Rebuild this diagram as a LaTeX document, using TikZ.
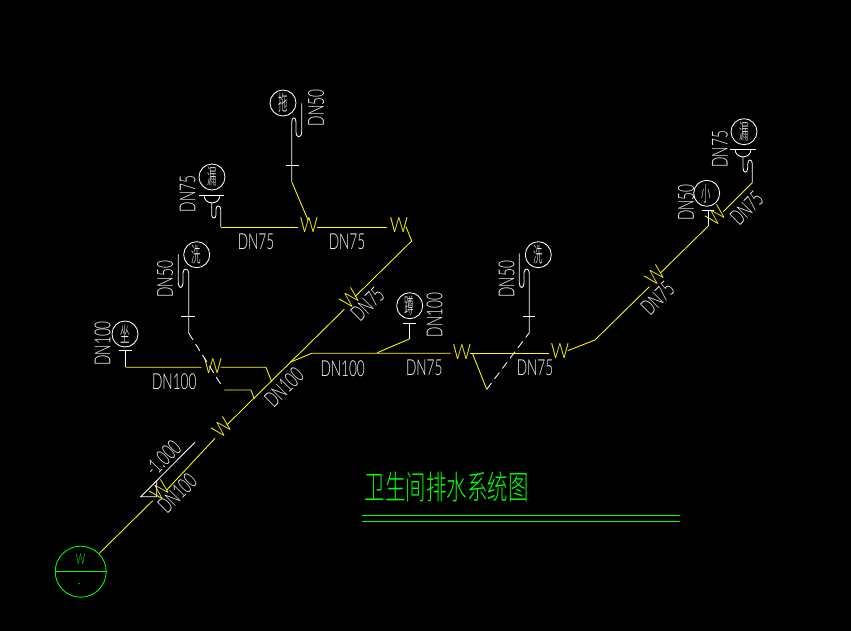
\documentclass[tikz,border=0pt]{standalone}
\usepackage{fontspec}
\newfontfamily\cadfont[FakeStretch=0.62]{Lato Light}
\newfontfamily\wfont[FakeStretch=0.85]{Lato Light}
\newfontfamily\cjkcirc[FakeStretch=0.45]{Noto Sans CJK SC Light}
\newfontfamily\cjktitle[FakeStretch=0.62]{Noto Sans CJK SC Light}
\definecolor{cadyellow}{RGB}{255,255,0}
\definecolor{cadgreen}{RGB}{0,255,0}
\tikzset{
  wpipe/.style={draw=white,line width=0.85pt},
  ypipe/.style={draw=cadyellow,line width=0.85pt},
  dashpipe/.style={draw=white,line width=0.85pt,dash pattern=on 8pt off 5pt},
  dnlabel/.style={text=white,font=\cadfont\fontsize{22}{22}\selectfont,inner sep=0pt},
  wmark/.style={text=cadyellow,font=\wfont\fontsize{21}{21}\selectfont,inner sep=0pt},
  fixture/.style={circle,draw=white,line width=0.85pt,minimum size=26pt,inner sep=0pt,text=white,font=\cjkcirc\fontsize{21}{21}\selectfont},
  greenline/.style={draw=cadgreen,line width=0.85pt}
}
\begin{document}
\begin{tikzpicture}[x=1pt,y=-1pt]
\fill[black] (0,0) rectangle (851,631);
\useasboundingbox (0,0) rectangle (851,631);
% fixtures
\node[fixture] (tuo) at (283,103) {拖};
\node[fixture] (lou1) at (212,177) {漏};
\node[fixture] (xi1) at (196.7,254.7) {洗};
\node[fixture] (zuo) at (125,334) {坐};
\node[fixture] (dun) at (409.7,305.7) {蹲};
\node[fixture] (xi2) at (538.3,254.7) {洗};
\node[fixture] (xiao) at (706.7,193.3) {小};
\node[fixture] (lou2) at (744,131.7) {漏};
% outlet
\node[circle,draw=cadgreen,line width=0.85pt,minimum size=51pt,inner sep=0pt] (out) at (80.7,571.7) {};
\draw[greenline] (out.west) -- (out.east);
\node[text=cadgreen,font=\cadfont\fontsize{15}{15}\selectfont,inner sep=0pt] (outw) at (80.7,559) {W};
\node[text=cadgreen,font=\cadfont\fontsize{15}{15}\selectfont,inner sep=0pt] (outm) at (79,586) {-};
% W marks
\node[wmark] (w1) at (309,225) {W};
\node[wmark] (w2) at (399,225) {W};
\node[wmark] (w3) at (213,366) {W};
\node[wmark,rotate=45] (w4) at (350,299) {W};
\node[wmark] (w5) at (462,352) {W};
\node[wmark] (w6) at (560,351) {W};
\node[wmark,rotate=45] (w7) at (655,276) {W};
\node[wmark,rotate=45] (w8) at (716,216) {W};
\node[wmark,rotate=45] (w9) at (222,428) {W};
\node[wmark,rotate=45] (w10) at (160,491) {W};
% pipe vertices
\coordinate (a1) at (291.7,181.7);
\coordinate (a2) at (308,220);
\coordinate (b1) at (220.7,227);
\coordinate (b2) at (297.7,227);
\coordinate (b3) at (317,227);
\coordinate (b4) at (386.7,227);
\coordinate (c1) at (406,226.7);
\coordinate (c2) at (411.7,241);
\coordinate (c3) at (355,296.7);
\coordinate (c4) at (344.3,309.3);
\coordinate (c5) at (226.7,425);
\coordinate (c6) at (215,438.3);
\coordinate (c7) at (166.7,490);
\coordinate (c8) at (152.7,500.7);
\coordinate (c9) at (99.3,553.3);
\coordinate (d1) at (125.7,367.3);
\coordinate (d2) at (201.7,367.3);
\coordinate (d3) at (220.7,367.3);
\coordinate (d4) at (266,367.3);
\coordinate (d5) at (271.7,381.7);
\coordinate (e1) at (224.3,390);
\coordinate (e2) at (251,390);
\coordinate (e3) at (254.3,399);
\coordinate (f1) at (290,362.3);
\coordinate (f2) at (311.7,353.3);
\coordinate (f3) at (450.7,353.3);
\coordinate (f4) at (377.3,352.7);
\coordinate (f5) at (409.3,339);
\coordinate (g1) at (470,353.3);
\coordinate (g2) at (549,353.3);
\coordinate (g3) at (472.7,354);
\coordinate (g4) at (486.7,389.3);
\coordinate (g5) at (529.3,332.7);
\coordinate (h1) at (567.7,350.7);
\coordinate (h2) at (595,340);
\coordinate (h3) at (649.3,286.7);
\coordinate (h4) at (660.7,272.7);
\coordinate (h5) at (708.3,226);
\coordinate (h6) at (723.3,211.7);
\coordinate (h7) at (752.3,182.7);
\coordinate (j1) at (188.7,333);
\coordinate (j2) at (221.7,385.7);
% yellow pipes
\draw[ypipe] (a1) -- (a2);
\draw[ypipe] (b1) -- (b2) (b3) -- (b4);
\draw[ypipe] (c1) -- (c2) -- (c3);
\draw[ypipe] (c4) -- (c5) (c6) -- (c7) (c8) -- (c9);
\draw[ypipe] (d1) -- (d2) (d3) -- (d4) -- (d5);
\draw[ypipe] (e1) -- (e2) -- (e3);
\draw[ypipe] (f1) -- (f2) -- (f3);
\draw[ypipe] (f4) -- (f5);
\draw[ypipe] (g1) -- (g2);
\draw[ypipe] (g3) -- (g4);
\draw[ypipe] (h1) -- (h2) -- (h3) (h4) -- (h5) (h6) -- (h7);
% white dashed
\draw[dashpipe] (j1) -- (j2);
\draw[dashpipe] (g4) -- (g5);
% white fixture pipework
\draw[wpipe] (301.7,103.3) -- (301.7,131.7) .. controls (301.7,138.5) and (296,138.5) .. (296,131.7) -- (296,122) .. controls (296,116.5) and (291.7,116.5) .. (291.7,122) -- (a1);
\draw[wpipe] (286,165.3) -- (298.7,165.3);
\draw[wpipe] (199,195) -- (224,195);
\draw[wpipe] (204,195) .. controls (204,205.5) and (220,205.5) .. (220,195);
\draw[wpipe] (211.7,203) -- (211.7,215) .. controls (211.7,219) and (216,219) .. (216,215) -- (216,209) .. controls (216,205) and (220.7,205) .. (220.7,209) -- (b1);
\draw[wpipe] (178.3,254) -- (178.3,283) .. controls (178.3,289) and (183,289) .. (183,283) -- (183,273) .. controls (183,267.7) and (188.7,267.7) .. (188.7,273) -- (j1);
\draw[wpipe] (181,316) -- (195,316);
\draw[wpipe] (119.3,350.7) -- (132,350.7);
\draw[wpipe] (125.7,350.7) -- (d1);
\draw[wpipe] (403,323) -- (416,323);
\draw[wpipe] (409.3,323) -- (f5);
\draw[wpipe] (519.3,253.3) -- (519.3,283) .. controls (519.3,289) and (524,289) .. (524,283) -- (524,273) .. controls (524,267.7) and (529.3,267.7) .. (529.3,273) -- (g5);
\draw[wpipe] (523,316.7) -- (535,316.7);
\draw[wpipe] (708.3,210) -- (h5);
\draw[wpipe] (701.7,210) -- (714,210);
\draw[wpipe] (730,149) -- (755.7,149);
\draw[wpipe] (735,149) .. controls (735,159.5) and (751,159.5) .. (751,149);
\draw[wpipe] (743,157) -- (743,168) .. controls (743,173.5) and (747.7,173.5) .. (747.7,168) -- (747.7,164) .. controls (747.7,158.7) and (752.3,158.7) .. (752.3,164) -- (h7);
% elevation mark
\coordinate (t1) at (140.7,496.7);
\coordinate (t2) at (156.7,496.7);
\coordinate (t3) at (156.7,480.7);
\coordinate (t4) at (195,442.3);
\draw[wpipe] (t1) -- (t2) -- (t3) -- cycle;
\draw[wpipe] (t3) -- (t4);
\node[dnlabel,rotate=45] (elev) at (163,458) {-1.000};
% labels
\node[dnlabel,rotate=90] (l1) at (316,108) {DN50};
\node[dnlabel,rotate=90] (l2) at (187.7,194) {DN75};
\node[dnlabel] (l3) at (256,242) {DN75};
\node[dnlabel] (l4) at (347,242) {DN75};
\node[dnlabel,rotate=90] (l5) at (165,279.3) {DN50};
\node[dnlabel,rotate=90] (l6) at (102.7,343.3) {DN100};
\node[dnlabel] (l7) at (174.3,381.7) {DN100};
\node[dnlabel,rotate=45] (l8) at (284,387.3) {DN100};
\node[dnlabel,rotate=45] (l9) at (367.7,304) {DN75};
\node[dnlabel,rotate=90] (l10) at (434.7,315) {DN100};
\node[dnlabel] (l11) at (342.7,368.3) {DN100};
\node[dnlabel] (l12) at (424.3,368.3) {DN75};
\node[dnlabel,rotate=90] (l13) at (506.7,279.3) {DN50};
\node[dnlabel] (l14) at (535,368.3) {DN75};
\node[dnlabel,rotate=90] (l15) at (686,202.7) {DN50};
\node[dnlabel,rotate=90] (l16) at (720,149.3) {DN75};
\node[dnlabel,rotate=45] (l17) at (746.7,208.3) {DN75};
\node[dnlabel,rotate=45] (l18) at (657.7,298.3) {DN75};
\node[dnlabel,rotate=45] (l19) at (177.3,493.3) {DN100};
% title
\node[text=cadgreen,font=\cjktitle\fontsize{33}{33}\selectfont,inner sep=0pt] (title) at (446.7,487) {卫生间排水系统图};
\draw[greenline] (362,515.3) -- (680,515.3);
\draw[greenline] (362,521.3) -- (680,521.3);
\end{tikzpicture}
\end{document}
